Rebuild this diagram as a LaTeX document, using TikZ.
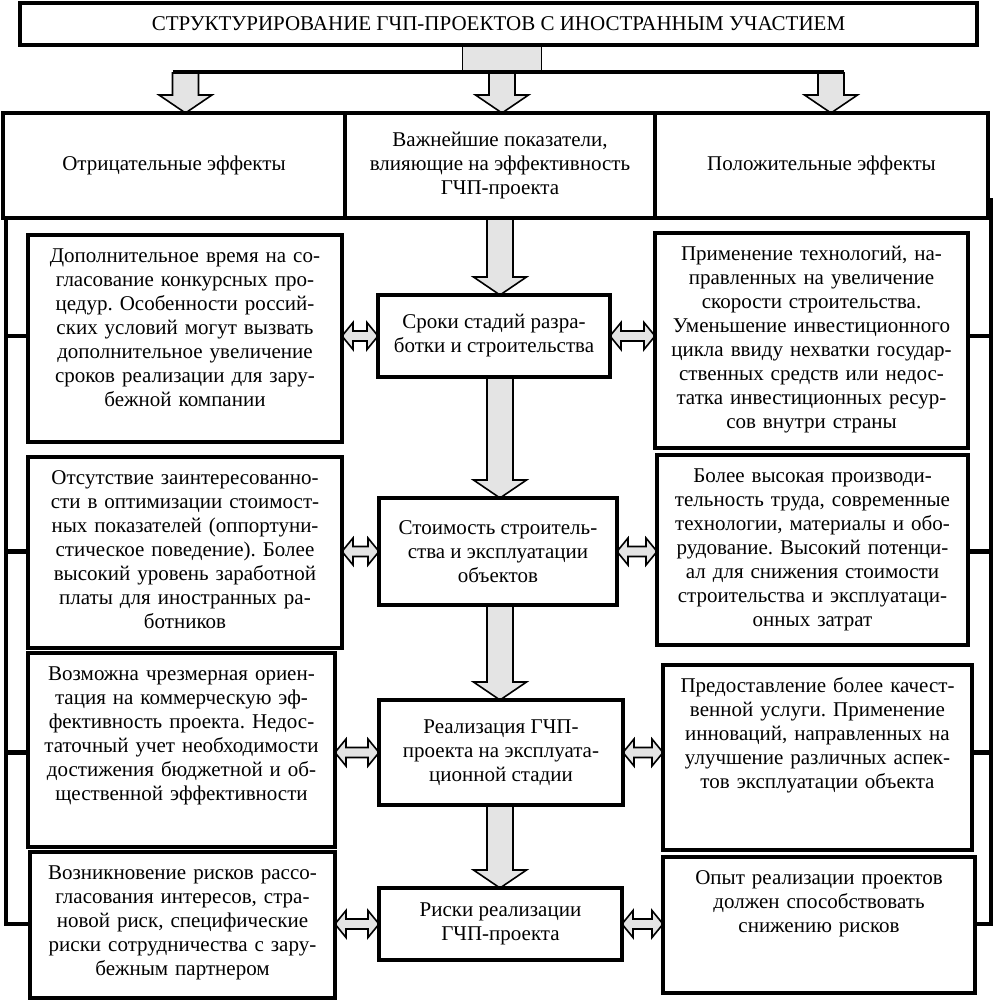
\documentclass[tikz,border=0pt]{standalone}
\usepackage{fontspec}
\setmainfont{Liberation Serif}
\usetikzlibrary{calc,backgrounds}

\begin{document}
\frenchspacing
\begin{tikzpicture}[x=0.5pt,y=-0.5pt,font=\fontsize{10.5}{12}\selectfont]

	\definecolor{arrowgray}{RGB}{228,228,228}

	\tikzset{frame/.style = {draw, line width=1.7pt, outer sep=0pt, inner sep=4pt, align=center}}
	\tikzset{effect/.style 2 args = {frame, anchor=north west, text width=#1, text height=9.75pt, text depth=#2}}
	\tikzset{rail/.style = {draw, line width=2.2pt}}
	\tikzset{blockdown/.style = {draw, fill=arrowgray, line width=0.8pt,
		to path={let \p1=(\tikztostart), \p2=(\tikztotarget) in
			(\x1-6.5pt,\y1) -- (\x1-6.5pt,\y2+9pt) -- (\x1-13.25pt,\y2+9pt) -- (\x1,\y2)
			-- (\x1+13.25pt,\y2+9pt) -- (\x1+6.5pt,\y2+9pt) -- (\x1+6.5pt,\y1)}}}
	\tikzset{twoway/.style = {draw, fill=arrowgray, line width=0.8pt,
		to path={let \p1=(\tikztostart), \p2=(\tikztotarget) in
			(\x1,\y1) -- (\x1+5.5pt,\y1+6.75pt) -- (\x1+5.5pt,\y1+2.5pt) -- (\x2-5.5pt,\y1+2.5pt)
			-- (\x2-5.5pt,\y1+6.75pt) -- (\x2,\y1) -- (\x2-5.5pt,\y1-6.75pt) -- (\x2-5.5pt,\y1-2.5pt)
			-- (\x1+5.5pt,\y1-2.5pt) -- (\x1+5.5pt,\y1-6.75pt) -- cycle}}}

	\useasboundingbox (0,0) rectangle (997,1001);

	% title and header row
	\node[frame, minimum width=478.5pt, minimum height=21pt] (title) at (498.5,24) {СТРУКТУРИРОВАНИЕ ГЧП-ПРОЕКТОВ С ИНОСТРАННЫМ УЧАСТИЕМ};
	\node[frame, anchor=north west, minimum width=171pt, minimum height=52.5pt] (hneg) at (3,113) {Отрицательные эффекты};
	\node[frame, anchor=north west, minimum width=155pt, minimum height=52.5pt] (hmid) at (345,113) {Важнейшие показатели,\\влияющие на эффективность\\ГЧП-проекта};
	\node[frame, anchor=north west, minimum width=166.5pt, minimum height=52.5pt] (hpos) at (655,113) {Положительные эффекты};

	\coordinate (sl) at (185.5,72);
	\coordinate (sm) at (502,72);
	\coordinate (sr) at (831,72);
	\coordinate (railw) at (6,218);
	\coordinate (raile) at (991,198);

	% indicators
	\node[frame, minimum width=116pt, minimum height=41pt] (c1) at (494,336) {Сроки стадий разра-\\ботки и строительства};
	\node[frame, minimum width=119pt, minimum height=53.5pt] (c2) at (498,551.5) {Стоимость строитель-\\ства и эксплуатации\\объектов};
	\node[frame, minimum width=122pt, minimum height=52.5pt] (c3) at (501,752.5) {Реализация ГЧП-\\проекта на эксплуата-\\ционной стадии};
	\node[frame, minimum width=121.5pt, minimum height=36pt] (c4) at (500.5,924) {Риски реализации\\ГЧП-проекта};

	% negative effects
	\node[effect={149pt}{85.75pt}] (l1) at (28,235) {Дополнительное время на со-\\гласование конкурсных про-\\цедур. Особенности россий-\\ских условий могут вызвать\\дополнительное увеличение\\сроков реализации для зару-\\бежной компании};
	\node[effect={149pt}{77.75pt}] (l2) at (28,457) {Отсутствие заинтересованно-\\сти в оптимизации стоимост-\\ных показателей (оппортуни-\\стическое поведение). Более\\высокий уровень заработной\\платы для иностранных ра-\\ботников};
	\node[effect={145.5pt}{79.25pt}] (l3) at (28,653) {Возможна чрезмерная ориен-\\тация на коммерческую эф-\\фективность проекта. Недос-\\таточный учет необходимости\\достижения бюджетной и об-\\щественной эффективности};
	\node[effect={144.5pt}{55.25pt}] (l4) at (30,852) {Возникновение рисков рассо-\\гласования интересов, стра-\\новой риск, специфические\\риски сотрудничества с зару-\\бежным партнером};

	% positive effects
	\node[effect={148.5pt}{89.75pt}] (r1) at (655,233) {Применение технологий, на-\\правленных на увеличение\\скорости строительства.\\Уменьшение инвестиционного\\цикла ввиду нехватки государ-\\ственных средств или недос-\\татка инвестиционных ресур-\\сов внутри страны};
	\node[effect={147.5pt}{77.25pt}] (r2) at (657,455) {Более высокая производи-\\тельность труда, современные\\технологии, материалы и обо-\\рудование. Высокий потенци-\\ал для снижения стоимости\\строительства и эксплуатаци-\\онных затрат};
	\node[effect={146.5pt}{74.75pt}] (r3) at (663,665) {Предоставление более качест-\\венной услуги. Применение\\инноваций, направленных на\\улучшение различных аспек-\\тов эксплуатации объекта};
	\node[effect={148pt}{50.25pt}] (r4) at (663,857) {Опыт реализации проектов\\должен способствовать\\снижению рисков};

	\begin{scope}[on background layer]
		\draw[fill=arrowgray, line width=0.8pt] ($(sm |- title.south)+(-19.75pt,0)$) rectangle ($(sm)+(19.75pt,0)$);
		\draw[blockdown] (sl) to (sl |- hneg.north);
		\draw[blockdown] (sm) to (sm |- hmid.north);
		\draw[blockdown] (sr) to (sr |- hpos.north);

		\draw[blockdown] (hmid.south) to (hmid.south |- c1.north);
		\draw[blockdown] (hmid.south |- c1.south) to (hmid.south |- c2.north);
		\draw[blockdown] (hmid.south |- c2.south) to (hmid.south |- c3.north);
		\draw[blockdown] (hmid.south |- c3.south) to (hmid.south |- c4.north);

		\draw[twoway] (l1.east |- c1) to (c1.west);
		\draw[twoway] (l2.east |- c2) to (c2.west);
		\draw[twoway] (l3.east |- c3) to (c3.west);
		\draw[twoway] (l4.east |- c4) to (c4.west);
		\draw[twoway] (c1.east) to (r1.west |- c1);
		\draw[twoway] (c2.east) to (r2.west |- c2);
		\draw[twoway] (c3.east) to (r3.west |- c3);
		\draw[twoway] (c4.east) to (r4.west |- c4);

		\draw[rail] (railw) |- (l4.west |- c4);
		\draw[rail] (railw |- c1) -- (l1.west |- c1);
		\draw[rail] (railw |- c2) -- (l2.west |- c2);
		\draw[rail] (railw |- c3) -- (l3.west |- c3);
		\draw[rail] (raile) |- (r4.east |- c4);
		\draw[rail] (raile |- c1) -- (r1.east |- c1);
		\draw[rail] (raile |- c2) -- (r2.east |- c2);
		\draw[rail] (raile |- c3) -- (r3.east |- c3);
	\end{scope}

	\draw[rail] ([xshift=-6.5pt]sl) -- ([xshift=6.5pt]sr);

\end{tikzpicture}
\end{document}
